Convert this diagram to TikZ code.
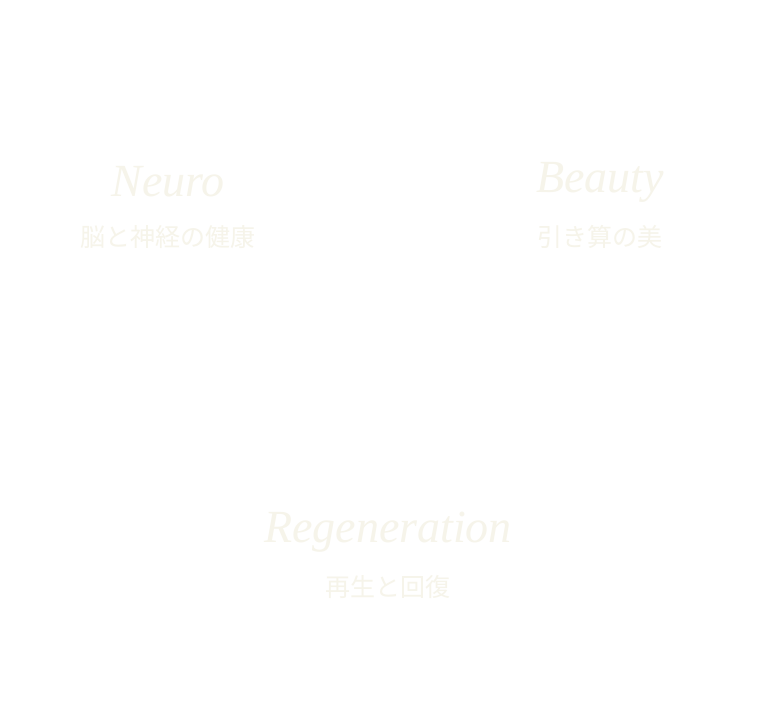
\documentclass[tikz,border=0pt]{standalone}
\usepackage{fontspec}
\setmainfont{Liberation Serif}
\newfontfamily\cjk{Noto Sans CJK JP}[Scale=1]
\definecolor{faint}{HTML}{F6F4EA}
\begin{document}
\begin{tikzpicture}[x=1pt,y=-1pt,
  title/.style={text=faint,font=\fontsize{46}{50}\selectfont\itshape,inner sep=0},
  sub/.style={text=faint,font=\cjk\fontsize{25}{28}\selectfont,inner sep=0}]
\fill[white] (0,0) rectangle (776,712);
\useasboundingbox (0,0) rectangle (776,712);
\node[title] (n) at (168,182) {Neuro};
\node[sub] (ns) at (168,237) {脳と神経の健康};
\node[title] (b) at (600,182) {Beauty};
\node[sub] (bs) at (600,237) {引き算の美};
\node[title] (r) at (388,532) {Regeneration};
\node[sub] (rs) at (388,587) {再生と回復};
\end{tikzpicture}
\end{document}
